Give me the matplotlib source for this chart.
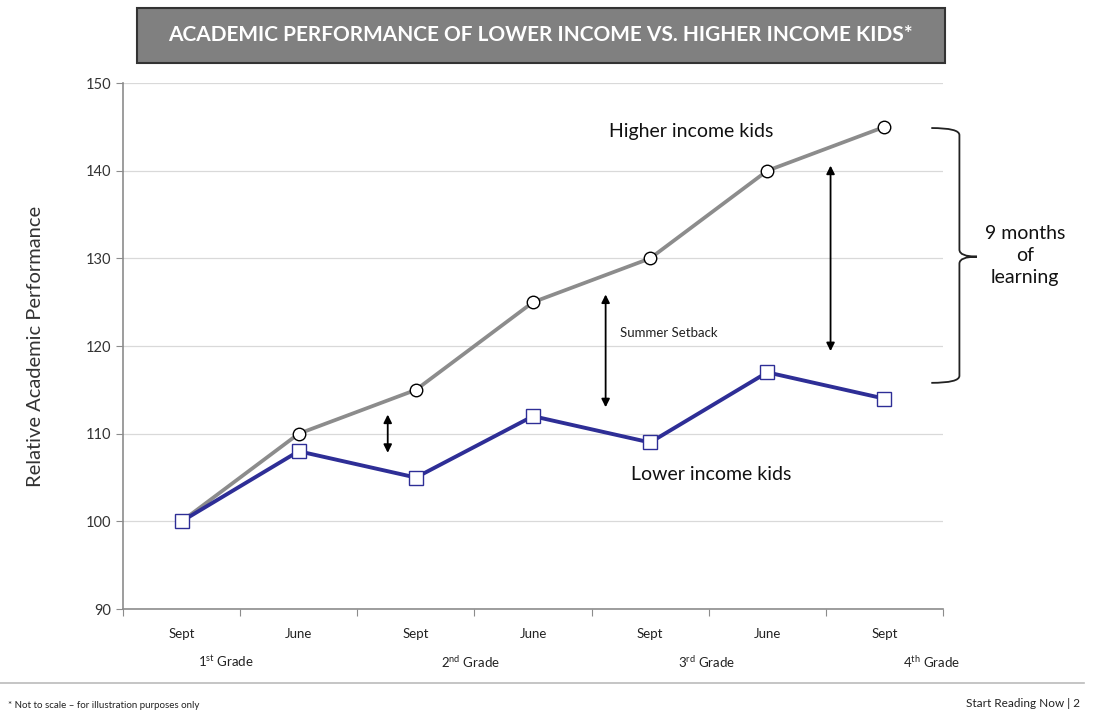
import matplotlib.pyplot as plt
from matplotlib.path import Path
from matplotlib.patches import PathPatch, Rectangle

plt.rcParams['font.family'] = ['Lato', 'DejaVu Sans']
plt.rcParams['mathtext.fontset'] = 'custom'
plt.rcParams['mathtext.rm'] = 'Lato'

# data ------------------------------------------------------------
mois = ['Sept', 'June', 'Sept', 'June', 'Sept', 'June', 'Sept']
haut = [100, 110, 115, 125, 130, 140, 145]
bas = [100, 108, 105, 112, 109, 117, 114]
grades = [r'1$^{\rm st}$ Grade', r'2$^{\rm nd}$ Grade', r'3$^{\rm rd}$ Grade', r'4$^{\rm th}$ Grade']
grades_x = [0.38, 2.47, 4.48, 6.40]

# figure ----------------------------------------------------------
fig = plt.figure(figsize=(10.95, 7.16), dpi=100)
ax = fig.add_axes([0.1123, 0.1494, 0.7489, 0.7346])
x = list(range(len(mois)))

ax.plot(x, haut, color='#8c8c8c', lw=2.7, marker='o', ms=9,
        mfc='white', mec='black', mew=1.0, zorder=3)
ax.plot(x, bas, color='#2e2e96', lw=2.8, marker='s', ms=9.5,
        mfc='white', mec='#2e2e96', mew=1.0, zorder=3)

ax.set_xlim(-0.5, 6.5)
ax.set_ylim(90, 150)
ax.set_yticks(range(90, 151, 10))
ax.yaxis.grid(True, color='#d9d9d9', lw=0.9)
ax.set_axisbelow(True)
for s in ['top', 'right']:
    ax.spines[s].set_visible(False)
for s in ['left', 'bottom']:
    ax.spines[s].set_color('#8c8c8c')
    ax.spines[s].set_linewidth(1.2)
ax.tick_params(axis='y', colors='#8c8c8c', labelcolor='#333333', labelsize=10.5, length=5)
ax.set_xticks([i + 0.5 for i in range(-1, 7)])
ax.set_xticklabels([])
ax.tick_params(axis='x', colors='#8c8c8c', length=5)
for i, m in enumerate(mois):
    ax.text(i, 87.1, m, ha='center', va='center', fontsize=9.5, color='#222222')
for gx, g in zip(grades_x, grades):
    ax.text(gx, 84.0, g, ha='center', va='center', fontsize=9.5, color='#222222')
ax.set_ylabel('Relative Academic Performance', fontsize=14.5, color='#333333', labelpad=30)

# annotations ------------------------------------------------------
fleche = dict(arrowstyle='<|-|>', color='black', lw=1.3, mutation_scale=12)
ax.annotate('', xy=(1.76, 107.5), xytext=(1.76, 112.5), arrowprops=fleche)
ax.annotate('', xy=(3.62, 112.7), xytext=(3.62, 126.2), arrowprops=fleche)
ax.annotate('', xy=(5.54, 119.1), xytext=(5.54, 140.9), arrowprops=fleche)
ax.text(3.74, 121.5, 'Summer Setback', fontsize=9.5, va='center', color='#222222')
ax.text(4.35, 144.5, 'Higher income kids', fontsize=14, ha='center', va='center', color='#111111')
ax.text(4.52, 105.4, 'Lower income kids', fontsize=14, ha='center', va='center', color='#111111')

# accolade
x0, x1, x2 = 6.40, 6.64, 6.79
yh, yb, ym = 144.87, 115.8, 130.2
verts = [(x0, yh), (x1, yh), (x1, yh - 0.8),
         (x1, ym + 0.8), (x1, ym), (x2, ym),
         (x1, ym), (x1, ym - 0.8),
         (x1, yb + 0.8), (x1, yb), (x0, yb)]
codes = [Path.MOVETO, Path.CURVE3, Path.CURVE3,
         Path.LINETO, Path.CURVE3, Path.CURVE3,
         Path.CURVE3, Path.CURVE3,
         Path.LINETO, Path.CURVE3, Path.CURVE3]
ax.add_patch(PathPatch(Path(verts, codes), fill=False, lw=1.3, color='#222222', clip_on=False))
ax.text(7.20, 130.3, '9 months\nof\nlearning', fontsize=14, ha='center', va='center',
        linespacing=1.35, color='#111111')

# titre -------------------------------------------------------------
fig.add_artist(Rectangle((0.125, 0.912), 0.738, 0.077, transform=fig.transFigure,
                         fc='#808080', ec='#333333', lw=1.5))
fig.text(0.494, 0.9505, 'ACADEMIC PERFORMANCE OF LOWER INCOME VS. HIGHER INCOME KIDS*',
         ha='center', va='center', fontsize=15, color='white', fontweight='bold')

# pied de page
fig.add_artist(plt.Line2D([0.0, 0.99], [0.046, 0.046], color='#bbbbbb', lw=1.2))
fig.text(0.007, 0.015, '* Not to scale \u2013 for illustration purposes only',
         fontsize=7, color='#222222', va='center')
fig.text(0.986, 0.017, 'Start Reading Now | 2', fontsize=8.5, color='#222222',
         ha='right', va='center')

fig.savefig('out.png', dpi=100)
